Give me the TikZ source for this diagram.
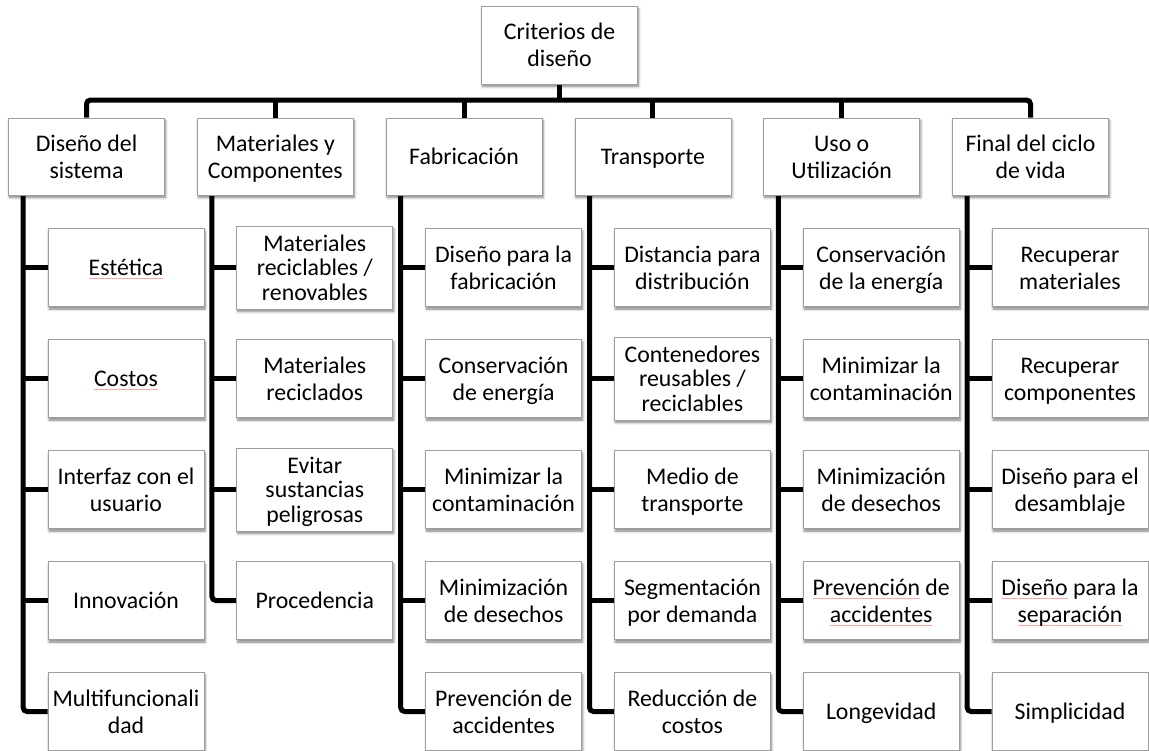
\documentclass[tikz,border=0pt]{standalone}
\usepackage{fontspec}
\setmainfont{Carlito}
\usetikzlibrary{shadows.blur}
\pgfdeclarelayer{bg}
\pgfsetlayers{bg,main}
\definecolor{boxline}{RGB}{158,158,158}
\definecolor{spellred}{RGB}{244,170,170}
% faint spelling-check line under a word
\newcommand\spl[1]{\setbox0\hbox{#1}\rlap{\textcolor{spellred}{\rule[-3.5pt]{\wd0}{0.8pt}}}\box0\relax}
% struts that keep every text block at the same height, set a little low
\newcommand\ts{\rule{0pt}{24pt}}
\newcommand\bs{\rule[-8pt]{0pt}{1pt}}
\begin{document}
\begin{tikzpicture}[x=1pt,y=-1pt,
  box/.style={draw=boxline, line width=0.8pt, fill=white,
    minimum width=156pt, minimum height=78pt, inner sep=1pt, align=center,
    font=\fontsize{23.8}{27}\selectfont,
    execute at begin node=\ts, execute at end node=\bs,
    blur shadow={shadow xshift=1pt, shadow yshift=-2.5pt, shadow blur steps=6,
      shadow blur radius=2.5pt, shadow opacity=50}},
  tight/.style={font=\fontsize{23.8}{24.5}\selectfont},
  conn/.style={line width=5pt, rounded corners=4pt}]
\useasboundingbox (0,0) rectangle (1149,750);

% root and the six criteria
\node[box] (root) at (559.5,45) {\ts Criterios de\\diseño\bs};
\node[box, minimum height=77pt] (d1) at (86.5,156.5) {\ts Diseño del\\sistema\bs};
\node[box, minimum height=77pt] (d2) at (275.3,156.5) {\ts Materiales y\\Componentes\bs};
\node[box, minimum height=77pt] (d3) at (464.1,156.5) {Fabricación};
\node[box, minimum height=77pt] (d4) at (652.9,156.5) {Transporte};
\node[box, minimum height=77pt] (d5) at (841.7,156.5) {\ts Uso o\\Utilización\bs};
\node[box, minimum height=77pt] (d6) at (1030.5,156.5) {\ts Final del ciclo\\de vida\bs};

% column 1
\node[box] (a1) at (126,267.5) {\spl{Estética}};
\node[box] (a2) at (126,378.5) {\spl{Costos}};
\node[box] (a3) at (126,489.5) {\ts Interfaz con el\\usuario\bs};
\node[box] (a4) at (126,600.5) {Innovación};
\node[box] (a5) at (126,711.5) {\ts Multifuncionali\\dad\bs};
% column 2
\node[box, tight] (b1) at (314.8,267.5) {\ts Materiales\\reciclables /\\renovables\bs};
\node[box] (b2) at (314.8,378.5) {\ts Materiales\\reciclados\bs};
\node[box, tight] (b3) at (314.8,489.5) {\ts Evitar\\sustancias\\peligrosas\bs};
\node[box] (b4) at (314.8,600.5) {Procedencia};
% column 3
\node[box] (c1) at (503.6,267.5) {\ts Diseño para la\\fabricación\bs};
\node[box] (c2) at (503.6,378.5) {\ts Conservación\\de energía\bs};
\node[box] (c3) at (503.6,489.5) {\ts Minimizar la\\contaminación\bs};
\node[box] (c4) at (503.6,600.5) {\ts Minimización\\de desechos\bs};
\node[box] (c5) at (503.6,711.5) {\ts Prevención de\\accidentes\bs};
% column 4
\node[box] (e1) at (692.4,267.5) {\ts Distancia para\\distribución\bs};
\node[box, tight] (e2) at (692.4,378.5) {\ts Contenedores\\reusables /\\reciclables\bs};
\node[box] (e3) at (692.4,489.5) {\ts Medio de\\transporte\bs};
\node[box] (e4) at (692.4,600.5) {\ts Segmentación\\por demanda\bs};
\node[box] (e5) at (692.4,711.5) {\ts Reducción de\\costos\bs};
% column 5
\node[box] (f1) at (881.2,267.5) {\ts Conservación\\de la energía\bs};
\node[box] (f2) at (881.2,378.5) {\ts Minimizar la\\contaminación\bs};
\node[box] (f3) at (881.2,489.5) {\ts Minimización\\de desechos\bs};
\node[box] (f4) at (881.2,600.5) {\ts\spl{Prevención} de\\\spl{accidentes}\bs};
\node[box] (f5) at (881.2,711.5) {Longevidad};
% column 6
\node[box] (g1) at (1070,267.5) {\ts Recuperar\\materiales\bs};
\node[box] (g2) at (1070,378.5) {\ts Recuperar\\componentes\bs};
\node[box] (g3) at (1070,489.5) {\ts Diseño para el\\desamblaje\bs};
\node[box] (g4) at (1070,600.5) {\ts\spl{Diseño} para la\\\spl{separación}\bs};
\node[box] (g5) at (1070,711.5) {Simplicidad};

\begin{pgfonlayer}{bg}
  % top bar
  \coordinate (bar) at (559.5,100);
  \draw[conn] (root.south) -- (bar);
  \draw[conn] (d1.north) |- (bar) -| (d6.north);
  \foreach \d in {d2,d3,d4,d5}
    \draw[conn] (\d.north) -- (\d.north |- bar);
  % spines and branches
  \foreach \d/\p/\last/\n in {d1/a/5/4, d2/b/4/3, d3/c/5/4, d4/e/5/4, d5/f/5/4, d6/g/5/4} {
    \coordinate (s\d) at ([xshift=15pt]\d.south west);
    \draw[conn] (s\d) |- (\p\last.west);
    \foreach \k in {1,...,\n}
      \draw[conn] (\p\k.west) -- (\p\k.west -| s\d);
  }
\end{pgfonlayer}
\end{tikzpicture}
\end{document}
